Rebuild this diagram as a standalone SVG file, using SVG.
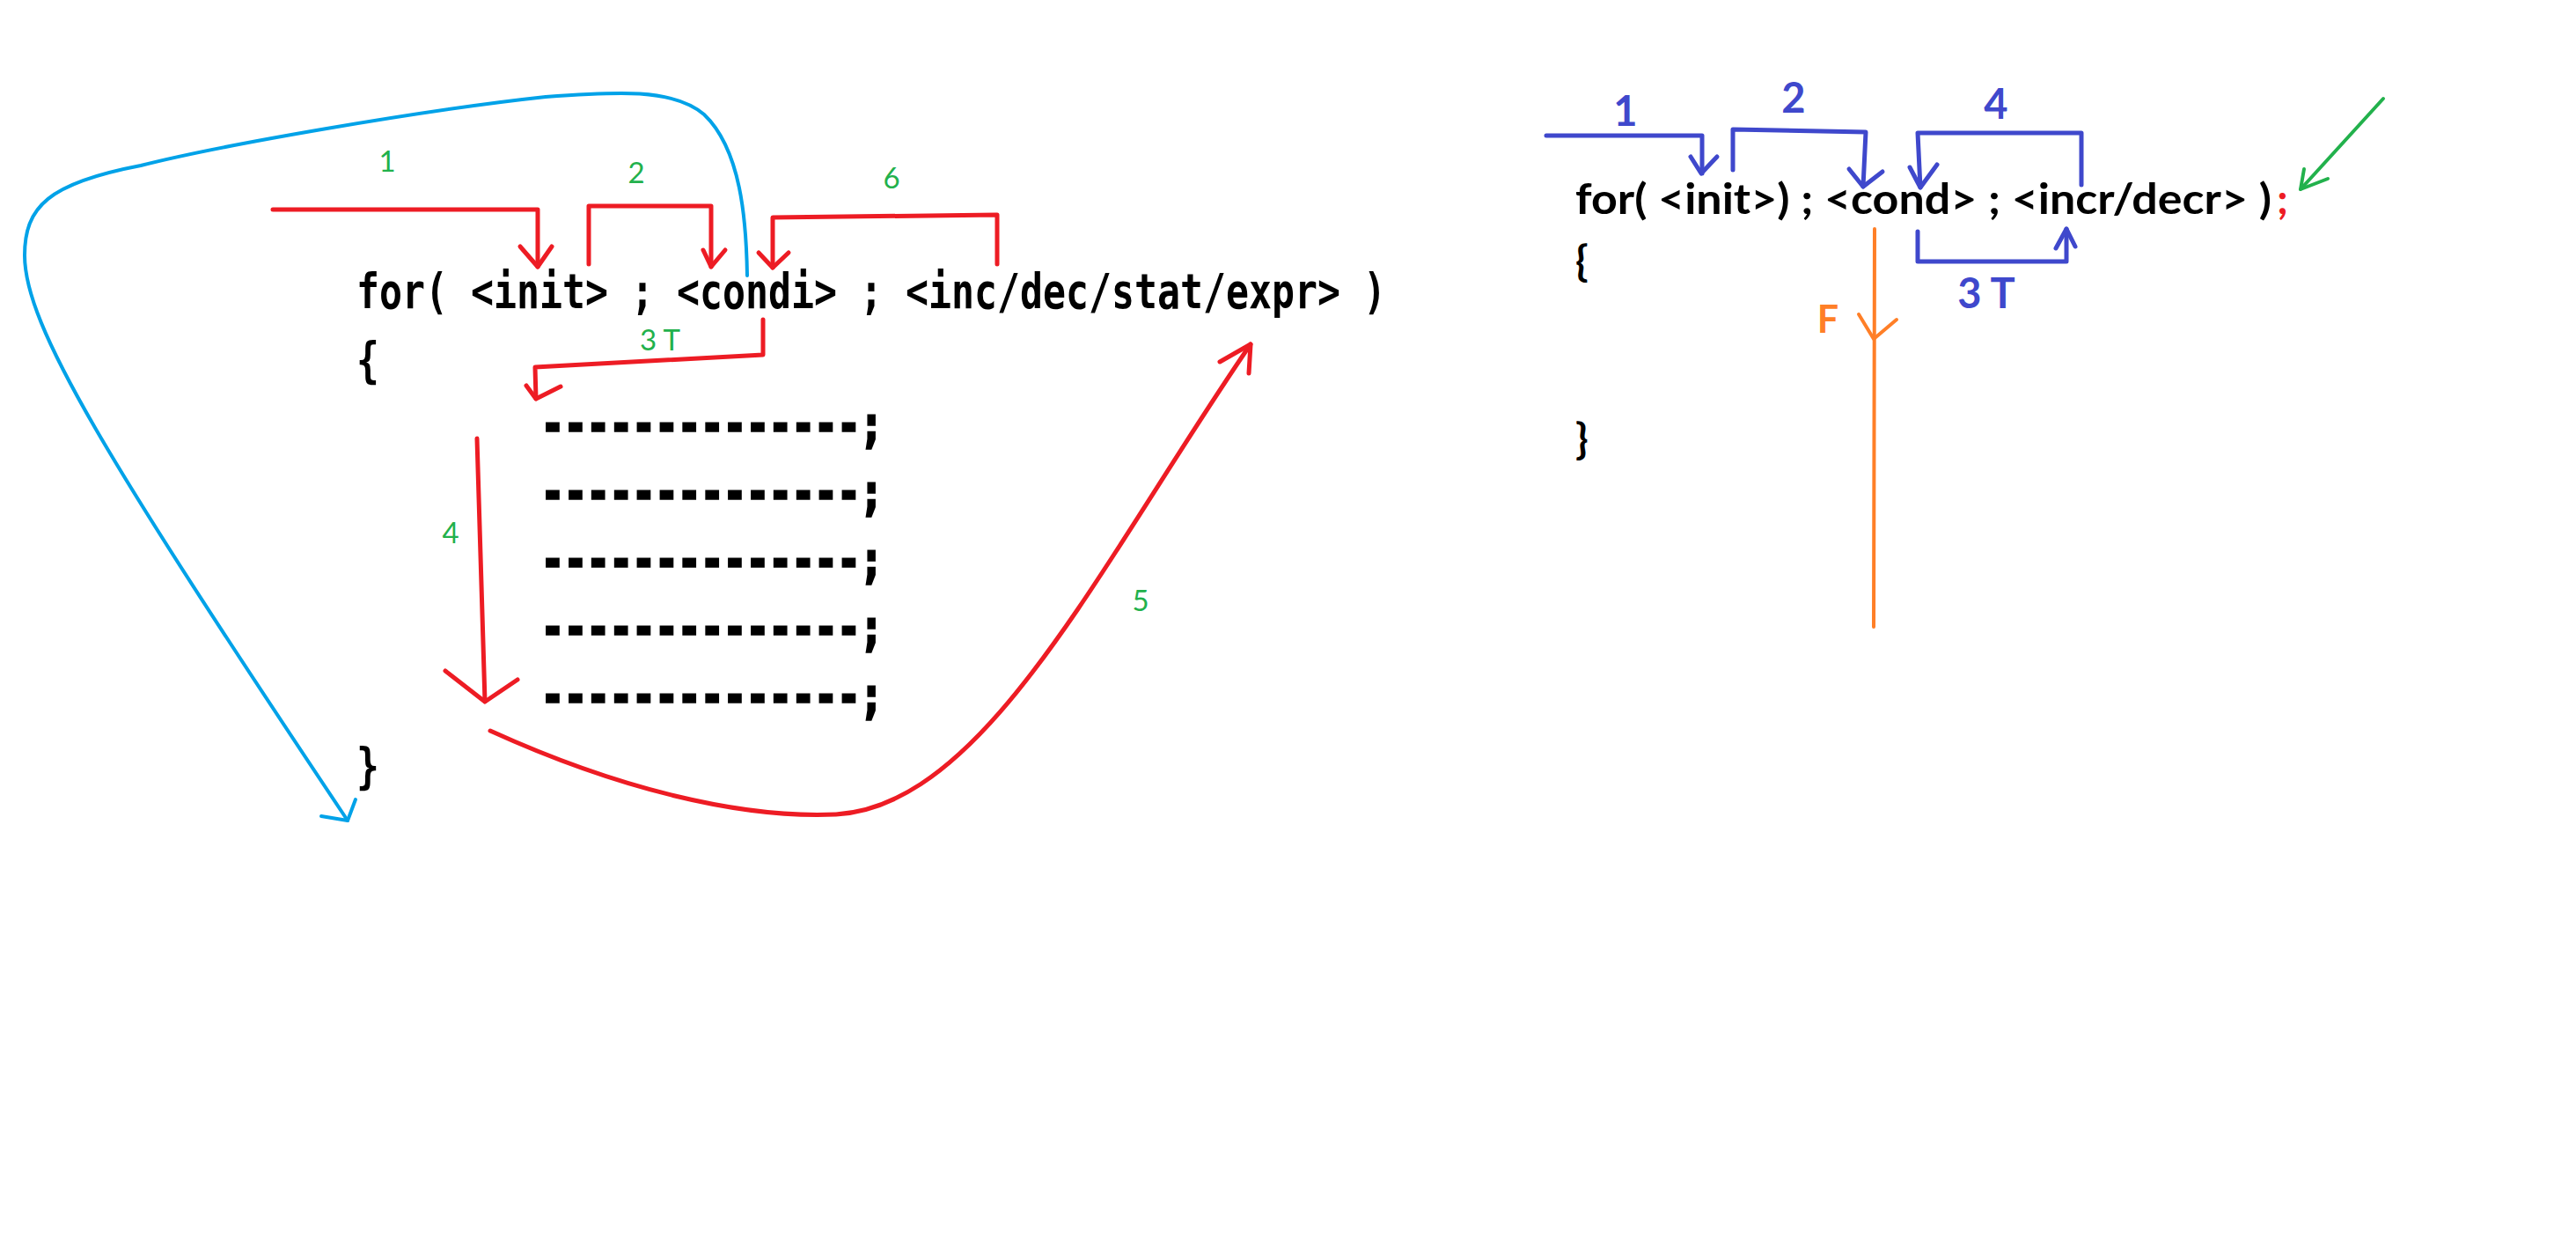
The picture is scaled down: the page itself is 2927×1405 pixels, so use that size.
<svg xmlns="http://www.w3.org/2000/svg" width="2927" height="1405" viewBox="0 0 2927 1405">
  <style>
    .code { font-family: "DejaVu Sans Mono", "Liberation Mono", monospace; font-weight: bold; font-size: 43px; fill: #000; }
    .dash { stroke: #000; stroke-width: 2.5; }
    .rcode { font-family: Lato, "Open Sans", "Liberation Sans", sans-serif; font-weight: bold; font-size: 48px; fill: #000; }
    .num { font-family: Lato, "Open Sans", "Liberation Sans", sans-serif; font-size: 33px; fill: #22B14C; text-anchor: middle; }
    .bnum { font-family: Lato, "Open Sans", "Liberation Sans", sans-serif; font-weight: bold; font-size: 47px; fill: #3F48CC; text-anchor: middle; }
    .fnum { font-family: Lato, "Open Sans", "Liberation Sans", sans-serif; font-weight: bold; font-size: 43px; fill: #FF7F27; text-anchor: middle; }
    .red { fill: none; stroke: #ED1C24; stroke-width: 5; stroke-linecap: round; stroke-linejoin: round; }
    .cyan { fill: none; stroke: #00A2E8; stroke-width: 4; stroke-linecap: round; stroke-linejoin: round; }
    .indigo { fill: none; stroke: #3F48CC; stroke-width: 5; stroke-linecap: round; stroke-linejoin: round; }
    .orange { fill: none; stroke: #FF7F27; stroke-width: 4; stroke-linecap: round; stroke-linejoin: round; }
    .green { fill: none; stroke: #22B14C; stroke-width: 4; stroke-linecap: round; stroke-linejoin: round; }
  </style>

  <rect width="2927" height="1405" fill="#fff"/>

  <!-- Left: for-loop skeleton -->
  <g id="left-header">
    <text class="code" transform="translate(405,350) scale(1,1.3)" textLength="1170" lengthAdjust="spacingAndGlyphs">for( &lt;init&gt; ; &lt;condi&gt; ; &lt;inc/dec/stat/expr&gt; )</text>
  </g>
  <g id="left-open-brace">
    <text class="code" transform="translate(405,428) scale(1,1.3)">{</text>
  </g>
  <g id="left-body">
    <text class="code dash" transform="translate(615,501) scale(1,1.3)">--------------;</text>
    <text class="code dash" transform="translate(615,578) scale(1,1.3)">--------------;</text>
    <text class="code dash" transform="translate(615,655) scale(1,1.3)">--------------;</text>
    <text class="code dash" transform="translate(615,732) scale(1,1.3)">--------------;</text>
    <text class="code dash" transform="translate(615,809) scale(1,1.3)">--------------;</text>
  </g>
  <g id="left-close-brace">
    <text class="code" transform="translate(405,889) scale(1,1.3)">}</text>
  </g>

  <!-- Left: step numbers -->
  <g id="left-labels">
    <text class="num" x="440" y="195">1</text>
    <text class="num" x="723" y="208">2</text>
    <text class="num" x="750" y="398">3 T</text>
    <text class="num" x="512" y="617">4</text>
    <text class="num" x="1296" y="694">5</text>
    <text class="num" x="1013" y="214">6</text>
  </g>

  <!-- Left: flow connectors -->
  <g id="left-connectors">
    <!-- 1: into init -->
    <path class="red" d="M310,238 H611 V303"/>
    <path class="red" d="M591,280 L611,303 L627,280"/>
    <!-- 2: init to condition -->
    <path class="red" d="M669,300 V234 H808 V303"/>
    <path class="red" d="M799,284 L808,303 L824,284"/>
    <!-- 3 T: condition true into body -->
    <path class="red" d="M867,363 V403 L608,417 L609,453"/>
    <path class="red" d="M598,438 L609,453 L637,439"/>
    <!-- 4: run through body -->
    <path class="red" d="M542,498 L551,797"/>
    <path class="red" d="M506,762 L551,797 L588,772"/>
    <!-- 5: body end back to update -->
    <path class="red" stroke-width="6" d="M557,830 C700,895 840,930 950,925 C1120,915 1250,640 1421,391"/>
    <path class="red" d="M1386,411 L1421,391 L1419,424"/>
    <!-- 6: update back to condition -->
    <path class="red" d="M1133,300 V244 L878,247 V304"/>
    <path class="red" d="M862,287 L878,304 L896,287"/>
    <!-- false: exit past closing brace -->
    <path class="cyan" d="M849,313 C848,250 842,170 800,130 C765,100 700,104 620,110 C480,125 250,165 160,188 C55,208 28,235 28,290 C28,370 120,520 395,932"/>
    <path class="cyan" d="M365,927 L395,932 L404,908"/>
  </g>

  <!-- Right: for-loop with stray semicolon -->
  <g id="right-header">
    <text class="rcode" x="1790" y="243" textLength="791" lengthAdjust="spacingAndGlyphs">for( &lt;init&gt;) ; &lt;cond&gt; ; &lt;incr/decr&gt; )</text>
    <text class="rcode" x="2587" y="243" style="fill:#ED1C24">;</text>
  </g>
  <g id="right-open-brace">
    <text class="rcode" x="1790" y="314">{</text>
  </g>
  <g id="right-close-brace">
    <text class="rcode" x="1790" y="516">}</text>
  </g>

  <!-- Right: step numbers -->
  <g id="right-labels">
    <text class="bnum" x="1847" y="143">1</text>
    <text class="bnum" x="2038" y="128">2</text>
    <text class="bnum" x="2257" y="350">3 T</text>
    <text class="bnum" x="2268" y="135">4</text>
    <text class="fnum" x="2077" y="378">F</text>
  </g>

  <!-- Right: flow connectors -->
  <g id="right-connectors">
    <path class="indigo" d="M1757,154 H1934 V197"/>
    <path class="indigo" d="M1921,178 L1933,197 L1951,178"/>
    <path class="indigo" d="M1969,193 V147 L2120,150 L2117,212"/>
    <path class="indigo" d="M2101,192 L2117,212 L2139,195"/>
    <path class="indigo" d="M2179,263 V297 H2348 V260"/>
    <path class="indigo" d="M2336,282 L2348,260 L2358,280"/>
    <path class="indigo" d="M2365,210 V151 H2179 L2182,213"/>
    <path class="indigo" d="M2170,190 L2182,213 L2201,187"/>
    <path class="orange" d="M2130,260 L2129,712"/>
    <path class="orange" d="M2112,357 L2129,385 L2155,363"/>
    <path class="green" d="M2708,112 L2614,215"/>
    <path class="green" d="M2618,192 L2614,215 L2645,203"/>
  </g>
</svg>
